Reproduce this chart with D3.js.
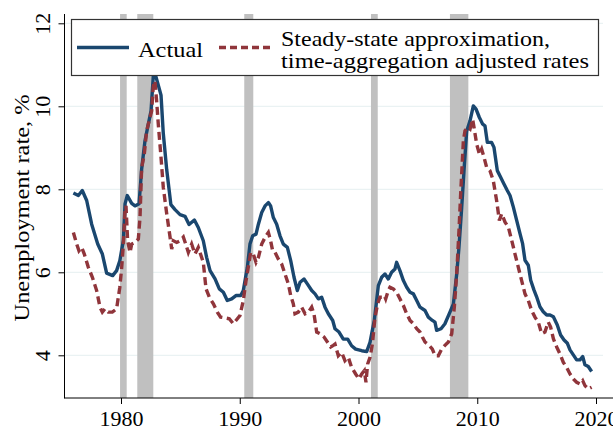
<!DOCTYPE html>
<html><head><meta charset="utf-8">
<script src="https://cdn.jsdelivr.net/npm/d3@7"></script>
<style>body{margin:0;background:#fff}</style>
</head><body>
<svg id="c" width="613" height="433"></svg>
<script>
const xTicks = [1980, 1990, 2000, 2010, 2020];
const yTicks = [4, 6, 8, 10, 12];
const recessions = [[1979.92, 1980.48], [1981.37, 1982.72], [1990.38, 1991.14], [2001.05, 2001.62], [2007.7, 2009.25]];

const actualYears = [1975.99,1976.41,1976.74,1977.11,1977.53,1978.04,1978.43,1978.79,1979.3,1979.63,1979.9,1980.2,1980.34,1980.53,1980.9,1981.18,1981.52,1981.74,1982.02,1982.3,1982.53,1982.72,1982.86,1983.1,1983.37,1983.56,1983.85,1984.2,1984.55,1984.97,1985.39,1985.73,1986.18,1986.51,
1986.93,1987.21,1987.5,1987.92,1988.28,1988.62,1988.95,1989.32,1989.68,1990.08,1990.3,1990.64,1990.86,1991.09,1991.37,1991.57,1991.85,1992.13,1992.41,1992.6,1992.83,1993.11,1993.39,1993.67,1994.01,1994.29,1994.57,1994.85,1995.08,1995.41,1995.69,1996.06,1996.34,1996.62,1996.9,1997.18,1997.46,1997.83,
1998.02,1998.36,1998.72,1999.09,1999.42,1999.76,2000.27,2000.69,2000.97,2001.33,2001.67,2001.95,2002.23,2002.51,2002.79,2003.07,2003.21,2003.49,2003.78,2004.06,2004.34,2004.62,2004.9,2005.18,2005.6,2005.88,2006.22,2006.44,2006.58,2006.95,2007.28,2007.7,2007.99,2008.27,2008.46,2008.69,2008.91,2009.11,
2009.39,2009.67,2009.9,2010.18,2010.46,2010.65,2010.85,2011.21,2011.41,2011.69,2011.97,2012.25,2012.53,2012.76,2013.04,2013.32,2013.6,2013.82,2014.02,2014.3,2014.5,2014.78,2015.0,2015.28,2015.56,2015.85,2016.13,2016.41,2016.74,2017.02,2017.31,2017.59,2017.81,2018.09,2018.37,2018.65,2018.88,2019.07,2019.35,2019.63];
const actualValues = [7.91,7.85,7.97,7.73,7.16,6.68,6.44,5.98,5.92,6.04,6.28,6.77,7.65,7.85,7.66,7.6,7.65,8.49,9.17,9.57,9.89,10.73,10.8,10.55,10.27,9.35,8.47,7.63,7.51,7.39,7.35,7.15,7.26,7.08,
6.76,6.36,6.04,5.84,5.6,5.52,5.32,5.36,5.44,5.44,5.56,6.12,6.68,6.88,6.92,7.16,7.44,7.6,7.68,7.6,7.32,7.16,6.88,6.68,6.6,6.28,5.88,5.56,5.76,5.84,5.72,5.56,5.48,5.36,5.4,5.16,5.0,4.84,
4.64,4.56,4.39,4.39,4.23,4.15,4.11,4.09,4.31,4.84,5.68,5.88,5.96,5.84,6.0,6.08,6.24,6.04,5.8,5.64,5.52,5.48,5.32,5.16,5.08,4.92,4.84,4.8,4.6,4.64,4.76,5.04,5.24,5.96,6.6,7.56,8.56,9.4,
9.65,10.01,9.93,9.73,9.57,9.53,9.13,9.13,9.01,8.45,8.29,8.13,7.97,7.85,7.57,7.25,6.93,6.69,6.29,6.17,5.81,5.57,5.41,5.17,5.05,4.97,4.97,4.93,4.73,4.49,4.37,4.29,4.13,4.01,3.89,3.89,3.97,3.77,3.73,3.61];

const steadyYears = [1975.99,1976.27,1976.46,1976.69,1976.91,1977.25,1977.59,1977.95,1978.23,1978.43,1978.65,1978.93,1979.27,1979.63,1979.9,1980.06,1980.2,1980.34,1980.42,1980.56,1980.76,1980.9,1981.18,1981.46,1981.6,1981.74,1981.96,1982.16,1982.44,1982.58,1982.72,1982.86,1983.0,1983.14,1983.37,1983.56,1983.85,1984.13,1984.27,1984.41,1984.69,1984.97,1985.25,1985.45,1985.67,1985.95,1986.23,1986.51,
1986.93,1987.16,1987.44,1987.78,1988.11,1988.39,1988.76,1989.12,1989.46,1989.8,1990.02,1990.3,1990.53,1990.72,1990.92,1991.14,1991.37,1991.57,1991.85,1992.13,1992.41,1992.6,1992.77,1992.97,1993.25,1993.53,1993.81,1994.09,1994.29,1994.51,1994.65,1994.93,1995.21,1995.5,1995.78,1996.06,1996.25,1996.48,1996.76,1997.1,1997.38,1997.66,1997.88,
1998.02,1998.3,1998.58,1998.86,1999.14,1999.42,1999.76,2000.04,2000.27,2000.49,2000.63,2000.77,2000.97,2001.17,2001.39,2001.61,2001.81,2002.0,2002.18,2002.29,2002.51,2002.65,2002.93,2003.21,2003.49,2003.78,2004.06,2004.34,2004.62,2004.9,2005.18,2005.38,2005.6,2005.94,2006.22,2006.44,2006.72,2007.0,2007.28,2007.57,2007.85,2008.07,2008.27,2008.46,2008.63,2008.83,2008.97,2009.19,
2009.39,2009.61,2009.73,2009.95,2010.18,2010.37,2010.57,2010.79,2011.07,2011.35,2011.63,2011.86,2012.06,2012.34,2012.62,2012.9,2013.18,2013.46,2013.74,2014.02,2014.3,2014.58,2014.86,2015.14,2015.42,2015.7,2015.98,2016.18,2016.41,2016.69,2016.97,2017.25,2017.53,2017.81,2018.09,2018.37,2018.65,2018.88,2019.07,2019.35,2019.63];
const steadyValues = [6.96,6.68,6.52,6.6,6.44,6.12,5.88,5.56,5.16,5.04,5.12,5.04,5.04,5.12,5.64,6.12,6.68,7.48,7.6,6.76,6.48,6.68,6.72,6.8,7.32,8.52,8.84,9.41,9.73,9.89,10.49,10.61,10.13,9.57,8.77,8.05,7.41,6.85,6.56,6.76,6.72,6.76,6.85,6.68,6.48,6.68,6.44,6.6,
6.24,5.6,5.4,5.24,5.04,4.92,4.9,4.88,4.76,4.88,4.96,5.32,5.8,6.12,6.48,6.44,6.24,6.36,6.68,6.84,6.96,6.76,6.52,6.48,6.32,6.2,5.96,5.72,5.44,5.24,5.0,5.04,5.16,5.0,5.04,5.16,5.0,4.56,4.52,4.44,4.32,4.2,4.24,
4.27,3.99,4.07,3.87,3.95,3.71,3.55,3.43,3.55,3.63,3.35,3.79,3.95,4.27,4.91,5.24,5.4,5.4,5.44,5.36,5.56,5.64,5.6,5.52,5.36,5.2,5.0,4.84,4.76,4.64,4.56,4.44,4.32,4.24,4.15,3.99,3.99,4.15,4.24,4.32,4.52,5.16,5.96,7.0,8.05,9.17,9.41,9.49,
9.45,9.69,9.49,9.09,8.85,8.97,8.77,8.53,8.45,8.21,7.73,7.25,7.41,7.21,7.09,6.77,6.44,6.12,5.8,5.48,5.32,5.08,4.92,4.8,4.52,4.56,4.8,4.68,4.4,4.2,4.03,3.83,3.71,3.55,3.43,3.35,3.31,3.39,3.27,3.19,3.23];

const FONT = "'Liberation Serif','Times New Roman',serif";
const svg = d3.select('#c');
const plotTop = 14, plotBottom = 398, plotLeft = 65, plotRight = 603;
const x = d3.scaleLinear().domain([1980, 2020]).range([121, 596]);
const y = d3.scaleLinear().domain([4, 12]).range([355.3, 23.3]);

// gridlines
svg.append('g').selectAll('line').data(yTicks).join('line')
  .attr('x1', plotLeft).attr('x2', plotRight)
  .attr('y1', d => y(d)).attr('y2', d => y(d))
  .attr('stroke', '#eaf2f3').attr('stroke-width', 1.2);

// recession bars
svg.append('g').selectAll('rect').data(recessions).join('rect')
  .attr('x', d => x(d[0])).attr('width', d => x(d[1]) - x(d[0]))
  .attr('y', plotTop).attr('height', plotBottom - plotTop)
  .attr('fill', '#c0c0c0');

const line = d3.line().x(d => x(d[0])).y(d => y(d[1]));
const actual = actualYears.map((t, i) => [t, actualValues[i]]);
const steady = steadyYears.map((t, i) => [t, steadyValues[i]]);

svg.append('path').datum(actual).attr('d', line)
  .attr('fill', 'none').attr('stroke', '#1a476f').attr('stroke-width', 3.4)
  .attr('stroke-linejoin', 'round');
svg.append('path').datum(steady).attr('d', line)
  .attr('fill', 'none').attr('stroke', '#90353b').attr('stroke-width', 3.4)
  .attr('stroke-dasharray', '8,4.5');

// y axis
const yAxis = svg.append('g').attr('transform', `translate(${plotLeft - 0.5},0)`)
  .call(d3.axisLeft(y).tickValues(yTicks).tickSize(6).tickFormat(d3.format('d')));
yAxis.select('.domain').remove();
yAxis.selectAll('.tick line').attr('stroke', '#000');
yAxis.selectAll('.tick text')
  .attr('transform', 'rotate(-90)').attr('x', 0).attr('y', -15).attr('dy', 0)
  .attr('text-anchor', 'middle')
  .style('font-family', FONT).style('font-size', '22px').attr('fill', '#000');
svg.append('line').attr('x1', plotLeft - 0.5).attr('x2', plotLeft - 0.5)
  .attr('y1', plotTop).attr('y2', plotBottom + 0.5).attr('stroke', '#000');

// x axis
const xAxis = svg.append('g').attr('transform', `translate(0,${plotBottom})`)
  .call(d3.axisBottom(x).tickValues(xTicks).tickSize(6).tickFormat(d3.format('d')));
xAxis.select('.domain').remove();
xAxis.selectAll('.tick line').attr('stroke', '#000');
xAxis.selectAll('.tick text').attr('y', 28).attr('dy', 0)
  .style('font-family', FONT).style('font-size', '22px').attr('fill', '#000');
svg.append('line').attr('x1', plotLeft - 0.5).attr('x2', 613)
  .attr('y1', plotBottom).attr('y2', plotBottom).attr('stroke', '#000');

// y title
svg.append('text').attr('transform', 'translate(29,208) rotate(-90)')
  .attr('text-anchor', 'middle').style('font-family', FONT).style('font-size', '21px')
  .attr('textLength', 227).attr('lengthAdjust', 'spacingAndGlyphs')
  .text('Unemployment rate, %');

// legend
const lg = svg.append('g');
lg.append('rect').attr('x', 71.5).attr('y', 19.5).attr('width', 527).attr('height', 56)
  .attr('fill', '#fff').attr('stroke', '#333').attr('stroke-width', 1.2);
lg.append('line').attr('x1', 77).attr('x2', 129).attr('y1', 47.5).attr('y2', 47.5)
  .attr('stroke', '#1a476f').attr('stroke-width', 3.4);
lg.append('text').attr('x', 138).attr('y', 57).style('font-family', FONT).style('font-size', '21px')
  .attr('textLength', 65).attr('lengthAdjust', 'spacingAndGlyphs').text('Actual');
lg.append('line').attr('x1', 219).attr('x2', 270).attr('y1', 47.5).attr('y2', 47.5)
  .attr('stroke', '#90353b').attr('stroke-width', 3.4).attr('stroke-dasharray', '7,4');
lg.append('text').attr('x', 281).attr('y', 46).style('font-family', FONT).style('font-size', '21px')
  .attr('textLength', 269).attr('lengthAdjust', 'spacingAndGlyphs').text('Steady-state approximation,');
lg.append('text').attr('x', 281).attr('y', 68).style('font-family', FONT).style('font-size', '21px')
  .attr('textLength', 308).attr('lengthAdjust', 'spacingAndGlyphs').text('time-aggregation adjusted rates');
</script>
</body></html>
